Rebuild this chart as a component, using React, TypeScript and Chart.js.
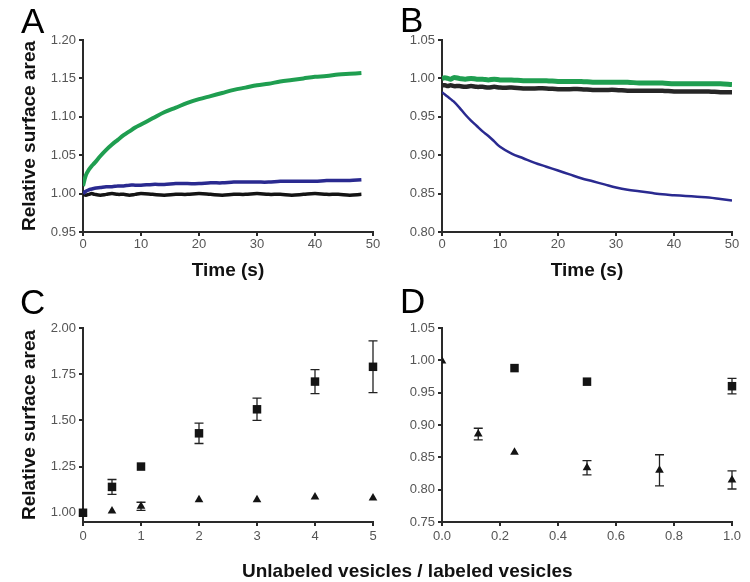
import React, { useEffect, useRef } from 'react';
import { Chart, registerables } from 'chart.js';

Chart.register(...registerables);

// ---------- Panel A (time traces) ----------
const timeA = [0, 0.5, 1, 1.5, 2, 3, 4, 5, 6, 7, 8, 9, 10, 12, 14, 16, 18, 20, 22, 24, 26, 28, 30, 32, 34, 36, 38, 40, 42, 44, 46, 48];
const greenA = [1.010, 1.024, 1.031, 1.036, 1.040, 1.049, 1.057, 1.064, 1.070, 1.076, 1.081, 1.086, 1.090, 1.098, 1.106, 1.112, 1.118, 1.123, 1.127, 1.131, 1.135, 1.138, 1.141, 1.143, 1.146, 1.148, 1.150, 1.152, 1.153, 1.155, 1.156, 1.157];
const blueA = [1.000, 1.003, 1.005, 1.006, 1.007, 1.008, 1.009, 1.009, 1.010, 1.010, 1.011, 1.011, 1.011, 1.012, 1.012, 1.013, 1.013, 1.013, 1.014, 1.014, 1.015, 1.015, 1.015, 1.015, 1.016, 1.016, 1.016, 1.016, 1.017, 1.017, 1.017, 1.018];
const blackA = [0.999, 0.998, 0.999, 1.000, 0.999, 0.998, 0.999, 1.000, 0.999, 0.999, 0.998, 0.999, 1.000, 0.999, 0.998, 0.999, 0.999, 1.000, 0.999, 0.998, 0.999, 0.999, 1.000, 0.999, 0.999, 0.998, 0.999, 1.000, 0.999, 0.999, 0.998, 0.999];
const xTicksA = [0, 10, 20, 30, 40, 50];
const yTicksA = [0.95, 1.0, 1.05, 1.1, 1.15, 1.2];

// ---------- Panel B (time traces) ----------
const timeB = [0, 0.5, 1, 1.5, 2, 3, 4, 5, 6, 7, 8, 9, 10, 12, 14, 16, 18, 20, 22, 24, 26, 28, 30, 32, 34, 36, 38, 40, 42, 44, 46, 48, 50];
const blueB = [0.982, 0.979, 0.976, 0.973, 0.970, 0.962, 0.953, 0.945, 0.938, 0.931, 0.925, 0.918, 0.911, 0.902, 0.896, 0.890, 0.885, 0.880, 0.875, 0.870, 0.866, 0.862, 0.858, 0.855, 0.853, 0.851, 0.849, 0.848, 0.847, 0.846, 0.845, 0.843, 0.841];
const greenB = [1.000, 1.001, 1.000, 0.999, 1.001, 1.000, 0.999, 1.000, 0.999, 0.999, 0.998, 0.999, 0.998, 0.998, 0.997, 0.997, 0.997, 0.996, 0.996, 0.996, 0.995, 0.995, 0.995, 0.995, 0.994, 0.994, 0.994, 0.993, 0.993, 0.993, 0.993, 0.993, 0.992];
const blackB = [0.991, 0.991, 0.990, 0.991, 0.990, 0.990, 0.989, 0.990, 0.989, 0.989, 0.988, 0.989, 0.988, 0.988, 0.987, 0.987, 0.987, 0.986, 0.986, 0.986, 0.985, 0.985, 0.985, 0.984, 0.984, 0.984, 0.984, 0.983, 0.983, 0.983, 0.983, 0.982, 0.982];
const xTicksB = [0, 10, 20, 30, 40, 50];
const yTicksB = [0.8, 0.85, 0.9, 0.95, 1.0, 1.05];

// ---------- Panel C (ratio 0-5) ----------
const ratioC = [0, 0.5, 1, 2, 3, 4, 5];
const squareC = [1.00, 1.14, 1.25, 1.43, 1.56, 1.71, 1.79];
const squareCErr = [0, 0.04, 0, 0.055, 0.06, 0.065, 0.14];
const triangleC = [1.00, 1.01, 1.035, 1.07, 1.07, 1.085, 1.08];
const triangleCErr = [0, 0, 0.022, 0, 0, 0, 0];
const xTicksC = [0, 1, 2, 3, 4, 5];
const yTicksC = [1.0, 1.25, 1.5, 1.75, 2.0];

// ---------- Panel D (ratio 0-1) ----------
const ratioDSquare = [0.25, 0.5, 1.0];
const squareD = [0.988, 0.967, 0.960];
const squareDErr = [0, 0, 0.012];
const ratioDTriangle = [0, 0.125, 0.25, 0.5, 0.75, 1.0];
const triangleD = [0.999, 0.886, 0.858, 0.834, 0.830, 0.815];
const triangleDErr = [0, 0.009, 0, 0.011, 0.024, 0.014];
const xTicksD = [0, 0.2, 0.4, 0.6, 0.8, 1.0];
const yTicksD = [0.75, 0.8, 0.85, 0.9, 0.95, 1.0, 1.05];

const FONT = "'Liberation Sans', Arial, Helvetica, sans-serif";
const AXIS = '#2a2a2a';
const TICK = '#555555';
const GREEN = '#1f9e50';
const BLUE = '#2a2a90';
const BLACK = '#141414';

const pts = (xs: number[], ys: number[]) => xs.map((x, i) => ({ x, y: ys[i] }));

const errorBars = {
  id: 'errorBars',
  beforeDatasetsDraw(chart: any) {
    const ctx = chart.ctx;
    const xs = chart.scales.x;
    const ys = chart.scales.y;
    chart.data.datasets.forEach((ds: any) => {
      const errs: number[] | undefined = ds.errors;
      if (!errs) return;
      ctx.save();
      ctx.strokeStyle = '#222';
      ctx.lineWidth = 1.3;
      ds.data.forEach((p: any, j: number) => {
        const e = errs[j];
        if (!e) return;
        const px = xs.getPixelForValue(p.x);
        const top = ys.getPixelForValue(p.y + e);
        const bot = ys.getPixelForValue(p.y - e);
        ctx.beginPath();
        ctx.moveTo(px, top);
        ctx.lineTo(px, bot);
        ctx.moveTo(px - 4.5, top);
        ctx.lineTo(px + 4.5, top);
        ctx.moveTo(px - 4.5, bot);
        ctx.lineTo(px + 4.5, bot);
        ctx.stroke();
      });
      ctx.restore();
    });
  },
};

type Cfg = {
  xMin: number; xMax: number; xTicks: number[]; xDec: number;
  yMin: number; yMax: number; yTicks: number[];
  xTitle?: string; yTitle?: string;
  padTop: number; padRight: number; yWidth: number; xHeight: number; xPad: number;
};

function makeOptions(c: Cfg): any {
  return {
    animation: false,
    responsive: false,
    maintainAspectRatio: false,
    layout: { padding: { left: 0, right: c.padRight, top: c.padTop, bottom: 0 } },
    plugins: { legend: { display: false }, tooltip: { enabled: false } },
    scales: {
      x: {
        type: 'linear',
        min: c.xMin,
        max: c.xMax,
        afterBuildTicks: (s: any) => { s.ticks = c.xTicks.map((v) => ({ value: v })); },
        afterFit: (s: any) => { s.height = c.xHeight; },
        ticks: {
          font: { family: FONT, size: 13 },
          color: TICK,
          padding: c.xPad,
          maxRotation: 0,
          autoSkip: false,
          callback: (v: any) => Number(v).toFixed(c.xDec),
        },
        grid: { display: true, drawOnChartArea: false, drawTicks: true, tickLength: 4, color: AXIS, lineWidth: 2 },
        border: { display: true, color: AXIS, width: 2 },
        title: {
          display: !!c.xTitle,
          text: c.xTitle || '',
          font: { family: FONT, size: 19, weight: 'bold' },
          color: '#111',
          padding: { top: 0, bottom: 8 },
        },
      },
      y: {
        type: 'linear',
        min: c.yMin,
        max: c.yMax,
        afterBuildTicks: (s: any) => { s.ticks = c.yTicks.map((v) => ({ value: v })); },
        afterFit: (s: any) => { s.width = c.yWidth; },
        ticks: {
          font: { family: FONT, size: 13 },
          color: TICK,
          padding: 3,
          autoSkip: false,
          callback: (v: any) => Number(v).toFixed(2),
        },
        grid: { display: true, drawOnChartArea: false, drawTicks: true, tickLength: 4, color: AXIS, lineWidth: 2 },
        border: { display: true, color: AXIS, width: 2 },
        title: {
          display: !!c.yTitle,
          text: c.yTitle || '',
          font: { family: FONT, size: 19, weight: 'bold' },
          color: '#111',
          padding: { top: 18, bottom: 0 },
        },
      },
    },
  };
}

const lineDs = (xs: number[], ys: number[], color: string, width: number) => ({
  type: 'line',
  data: pts(xs, ys),
  borderColor: color,
  backgroundColor: color,
  borderWidth: width,
  pointRadius: 0,
  tension: 0.35,
  fill: false,
});

const markerDs = (xs: number[], ys: number[], errs: number[], style: string, radius: number, clip: any) => ({
  type: 'scatter',
  data: pts(xs, ys),
  errors: errs,
  pointStyle: style,
  pointRadius: radius,
  backgroundColor: BLACK,
  borderColor: BLACK,
  borderWidth: 0,
  showLine: false,
  clip,
});

function Panel(props: { left: number; top: number; width: number; height: number; build: () => any }) {
  const ref = useRef<HTMLCanvasElement | null>(null);
  useEffect(() => {
    if (!ref.current) return;
    const chart = new Chart(ref.current, props.build());
    return () => chart.destroy();
  }, []);
  return (
    <canvas
      ref={ref}
      width={props.width}
      height={props.height}
      style={{ position: 'absolute', left: props.left, top: props.top, width: props.width, height: props.height }}
    />
  );
}

const letterStyle = (left: number, top: number): React.CSSProperties => ({
  position: 'absolute',
  left,
  top,
  fontFamily: FONT,
  fontSize: 35,
  lineHeight: '35px',
  color: '#000',
});

export default function App() {
  const buildA = () => ({
    type: 'line',
    data: {
      datasets: [
        lineDs(timeA, greenA, GREEN, 4),
        lineDs(timeA, blueA, BLUE, 3.5),
        lineDs(timeA, blackA, BLACK, 3.5),
      ],
    },
    options: makeOptions({
      xMin: 0, xMax: 50, xTicks: xTicksA, xDec: 0,
      yMin: 0.95, yMax: 1.2, yTicks: yTicksA,
      xTitle: 'Time (s)', yTitle: 'Relative surface area',
      padTop: 40, padRight: 22, yWidth: 83, xHeight: 58, xPad: 1,
    }),
  });
  const buildB = () => ({
    type: 'line',
    data: {
      datasets: [
        lineDs(timeB, greenB, GREEN, 5),
        lineDs(timeB, blackB, '#262626', 4.5),
        lineDs(timeB, blueB, BLUE, 2.5),
      ],
    },
    options: makeOptions({
      xMin: 0, xMax: 50, xTicks: xTicksB, xDec: 0,
      yMin: 0.8, yMax: 1.05, yTicks: yTicksB,
      xTitle: 'Time (s)',
      padTop: 40, padRight: 18, yWidth: 82, xHeight: 58, xPad: 1,
    }),
  });
  const buildC = () => ({
    type: 'scatter',
    data: {
      datasets: [
        markerDs(ratioC, squareC, squareCErr, 'rect', 6, false),
        markerDs(ratioC, triangleC, triangleCErr, 'triangle', 5, false),
      ],
    },
    options: makeOptions({
      xMin: 0, xMax: 5, xTicks: xTicksC, xDec: 0,
      yMin: 0.95, yMax: 2.0, yTicks: yTicksC,
      yTitle: 'Relative surface area',
      padTop: 38, padRight: 22, yWidth: 83, xHeight: 60, xPad: 3,
    }),
    plugins: [errorBars],
  });
  const buildD = () => ({
    type: 'scatter',
    data: {
      datasets: [
        markerDs(ratioDSquare, squareD, squareDErr, 'rect', 6, false),
        markerDs(ratioDTriangle, triangleD, triangleDErr, 'triangle', 5, { left: 0, right: false, top: false, bottom: false }),
      ],
    },
    options: makeOptions({
      xMin: 0, xMax: 1, xTicks: xTicksD, xDec: 1,
      yMin: 0.75, yMax: 1.05, yTicks: yTicksD,
      padTop: 38, padRight: 18, yWidth: 82, xHeight: 60, xPad: 3,
    }),
    plugins: [errorBars],
  });

  return (
    <div style={{ position: 'fixed', left: 0, top: 0, width: 750, height: 582, background: '#fff', overflow: 'hidden' }}>
      <Panel left={0} top={0} width={395} height={290} build={buildA} />
      <Panel left={360} top={0} width={390} height={290} build={buildB} />
      <Panel left={0} top={290} width={395} height={292} build={buildC} />
      <Panel left={360} top={290} width={390} height={292} build={buildD} />
      <div style={letterStyle(21, 3)}>A</div>
      <div style={letterStyle(400, 2)}>B</div>
      <div style={letterStyle(20, 284)}>C</div>
      <div style={letterStyle(400, 283)}>D</div>
      <div
        style={{
          position: 'absolute',
          left: 242,
          top: 561,
          fontFamily: FONT,
          fontSize: 19,
          lineHeight: '19px',
          fontWeight: 'bold',
          color: '#111',
          whiteSpace: 'nowrap',
        }}
      >
        Unlabeled vesicles / labeled vesicles
      </div>
    </div>
  );
}
